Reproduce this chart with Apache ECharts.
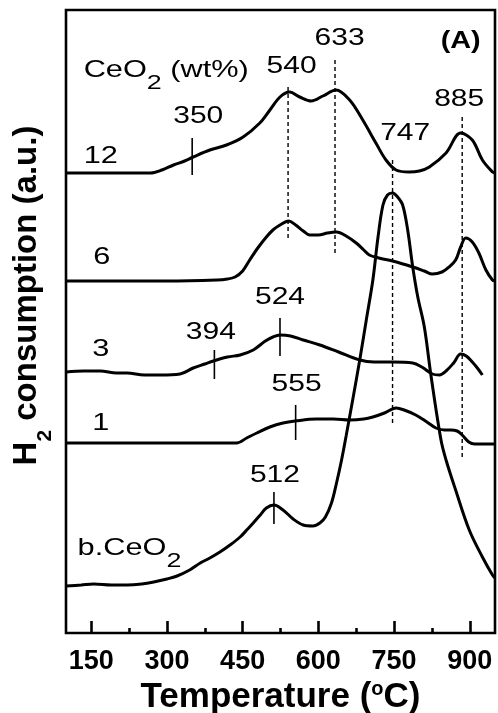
<!DOCTYPE html>
<html>
<head>
<meta charset="utf-8">
<script src="https://cdn.jsdelivr.net/npm/echarts@6/dist/echarts.min.js"></script>
<style>
  html, body { margin: 0; padding: 0; background: #fff; }
  #chart { width: 498px; height: 713px; }
</style>
</head>
<body>
<div id="chart"></div>
<script>
// Temperature axis ticks (°C)
const majorTicks = [150, 300, 450, 600, 750, 900];
const minorTicks = [225, 375, 525, 675, 825];

// H2-TPR profiles: [temperature (°C), H2 signal (a.u., curves stacked with offsets)]
const ceo2_12 = [
  [100, 460], [150, 460], [200, 460], [267, 460], [290, 463], [313, 468], [335, 472],
  [352, 476], [385, 483], [418, 488], [451, 496], [484, 510], [504, 523], [524, 536],
  [543, 541], [563, 536], [586, 532], [609, 537], [635, 543], [662, 533], [688, 513],
  [714, 490], [734, 473], [754, 463], [780, 461], [800, 462], [820, 466], [853, 480],
  [882, 500], [905, 493], [925, 473], [945, 461], [950, 460]
];
const ceo2_6 = [
  [100, 352], [200, 352], [300, 352], [399, 353], [420, 354], [435, 356], [450, 362],
  [464, 373], [480, 385], [497, 396], [510, 403], [524, 408], [541, 412], [555, 408],
  [570, 402], [583, 398], [600, 398], [618, 400], [636, 401], [655, 397], [675, 390],
  [690, 383], [701, 378], [720, 375], [747, 372], [787, 366], [810, 362], [826, 359],
  [845, 361], [859, 366], [872, 373], [882, 386], [892, 395], [905, 391], [918, 380],
  [932, 363], [945, 353], [950, 352]
];
const ceo2_3 = [
  [100, 261], [135, 262], [168, 262], [200, 260], [221, 260], [255, 258], [287, 258],
  [326, 259], [352, 265], [375, 269], [392, 272], [420, 276], [445, 278], [471, 283],
  [495, 292], [510, 296], [524, 298], [545, 297], [570, 293], [603, 288], [640, 281],
  [682, 273], [710, 271], [747, 271], [787, 270], [805, 266], [826, 259], [840, 258],
  [853, 262], [868, 270], [882, 279], [893, 277], [905, 271], [915, 265], [925, 258]
];
const ceo2_1 = [
  [100, 190], [200, 190], [300, 190], [400, 190], [438, 190], [458, 195], [478, 200],
  [504, 206], [530, 210], [554, 212], [596, 214], [630, 214], [662, 213], [690, 214],
  [708, 216], [731, 220], [754, 225], [770, 223], [793, 218], [815, 211], [833, 205],
  [850, 203], [862, 203], [875, 202], [885, 198], [898, 191], [910, 189], [930, 189],
  [950, 189]
];
const bulkCeO2 = [
  [100, 47], [130, 48], [155, 49], [190, 48], [221, 48], [250, 49], [274, 51], [300, 54],
  [320, 57], [345, 63], [366, 70], [385, 75], [405, 81], [425, 88], [445, 96], [460, 104],
  [471, 110], [485, 118], [497, 125], [512, 128], [530, 123], [550, 114], [570, 108],
  [589, 107], [603, 110], [614, 116], [626, 130], [636, 150], [646, 173], [655, 197],
  [668, 233], [682, 273], [695, 313], [708, 353], [718, 395], [728, 428], [737, 438],
  [747, 440], [757, 436], [767, 428], [777, 403], [787, 366], [797, 336], [810, 306],
  [823, 258], [843, 193], [853, 173], [872, 143], [899, 103], [925, 76], [945, 58], [950, 55]
];

// Peak temperature labels: [temperature, signal, text]
const peakLabels = [
  [362, 517, '350'], [547, 567, '540'], [642, 595, '633'], [772, 500, '747'],
  [879, 534, '885'], [524, 336, '524'], [387, 301, '394'], [557, 249, '555'],
  [514, 158, '512']
];
// Sample labels (CeO2 loading), left-aligned: [temperature, signal, text]
const sampleLabels = [
  [135, 563, '{m|CeO}{s|2}{m| (wt%)}'],
  [135, 477, '12'], [154, 376, '6'], [152, 284, '3'], [152, 210, '1'],
  [123, 85, '{m|b.CeO}{s|2}']
];
const panelLabel = [[882, 592, '(A)']];

// Short solid markers on individual peaks: [temperature, from, to]
const peakMarks = [
  [350, 458, 495], [394, 254, 283], [524, 277, 315], [555, 193, 228], [512, 109, 141]
];
// Dashed guides shared by several profiles: [temperature, from, to]
const peakGuides = [
  [540, 395, 548], [633, 380, 573], [747, 210, 475], [885, 176, 516]
];

const FONT = '"Liberation Sans", Arial, Helvetica, sans-serif';

function curve(name, data) {
  return {
    name, type: 'line', data, smooth: 0.35, symbol: 'none', silent: true, z: 3,
    lineStyle: { color: '#000', width: 3 }
  };
}

function markerSeries(list, dashed) {
  return {
    type: 'custom', silent: true, z: 2,
    data: list, encode: { x: 0, y: [1, 2] },
    renderItem(params, api) {
      const t = api.value(0);
      const p1 = api.coord([t, api.value(1)]);
      const p2 = api.coord([t, api.value(2)]);
      return {
        type: 'line',
        shape: { x1: p1[0], y1: p1[1], x2: p2[0], y2: p2[1] },
        style: { stroke: '#000', lineWidth: dashed ? 1.4 : 1.6, lineDash: dashed ? [4, 3] : null }
      };
    }
  };
}

function textSeries(list, opt) {
  const rich = {
    m: { fontFamily: FONT, fontSize: opt.size, lineHeight: opt.size, fontWeight: opt.weight, fill: '#000', verticalAlign: 'top' },
    s: { fontFamily: FONT, fontSize: 21, lineHeight: 21, fontWeight: opt.weight, fill: '#000', verticalAlign: 'top', padding: [15, 0, 0, 0] }
  };
  return {
    type: 'custom', silent: true, z: 5,
    data: list.map(d => [d[0], d[1]]), encode: { x: 0, y: 1 },
    renderItem(params, api) {
      const item = list[params.dataIndex];
      const p = api.coord([api.value(0), api.value(1)]);
      return {
        type: 'text', x: p[0], y: p[1] - opt.size / 2, scaleX: opt.scaleX,
        style: {
          text: item[2], fontFamily: FONT, fontSize: opt.size, lineHeight: opt.size,
          fontWeight: opt.weight, fill: '#000', align: opt.align, verticalAlign: 'top', rich
        }
      };
    }
  };
}

const chart = echarts.init(document.getElementById('chart'));
chart.setOption({
  animation: false,
  backgroundColor: '#fff',
  grid: {
    left: 66, right: 3, top: 10, bottom: 80, show: true, borderColor: '#000', borderWidth: 2.6,
    containLabel: false, outerBoundsMode: 'none'
  },
  xAxis: [
    {
      type: 'value', min: 100, max: 950, position: 'bottom',
      axisLine: { show: false }, splitLine: { show: false },
      axisTick: { show: true, inside: true, length: 12, customValues: majorTicks, lineStyle: { color: '#000', width: 2.6 } },
      axisLabel: { customValues: majorTicks, color: '#000', fontFamily: FONT, fontWeight: 'bold', fontSize: 27, margin: 15 },
      name: '{t|Temperature (}{o|o}{t|C)}',
      nameLocation: 'middle', nameGap: 41,
      nameTextStyle: {
        rich: {
          t: { fontFamily: FONT, fontWeight: 'bold', fontSize: 35, lineHeight: 35, color: '#000', verticalAlign: 'top' },
          o: { fontFamily: FONT, fontWeight: 'bold', fontSize: 20, lineHeight: 20, color: '#000', verticalAlign: 'top' }
        }
      }
    },
    {
      type: 'value', min: 100, max: 950, position: 'bottom',
      axisLine: { show: false }, splitLine: { show: false }, axisLabel: { show: false },
      axisTick: { show: true, inside: true, length: 5, customValues: minorTicks, lineStyle: { color: '#000', width: 2.6 } }
    }
  ],
  yAxis: {
    type: 'value', min: 0, max: 623,
    axisLine: { show: false }, axisTick: { show: false }, axisLabel: { show: false }, splitLine: { show: false },
    name: '{t|H}{s|2}{t| consumption (a.u.)}',
    nameLocation: 'middle', nameGap: 23,
    nameTextStyle: {
      padding: [0, 0, 0, 52],
      rich: {
        t: { fontFamily: FONT, fontWeight: 'bold', fontSize: 33, lineHeight: 33, color: '#000', verticalAlign: 'top' },
        s: { fontFamily: FONT, fontWeight: 'bold', fontSize: 21, lineHeight: 21, color: '#000', verticalAlign: 'top', padding: [25, 0, 0, 0] }
      }
    }
  },
  series: [
    curve('12 wt%', ceo2_12),
    curve('6 wt%', ceo2_6),
    curve('3 wt%', ceo2_3),
    curve('1 wt%', ceo2_1),
    curve('b.CeO2', bulkCeO2),
    markerSeries(peakGuides, true),
    markerSeries(peakMarks, false),
    textSeries(peakLabels, { size: 24, weight: 'normal', align: 'center', scaleX: 1.25 }),
    textSeries(sampleLabels, { size: 24, weight: 'normal', align: 'left', scaleX: 1.28 }),
    textSeries(panelLabel, { size: 24, weight: 'bold', align: 'center', scaleX: 1.2 })
  ]
});
</script>
</body>
</html>
